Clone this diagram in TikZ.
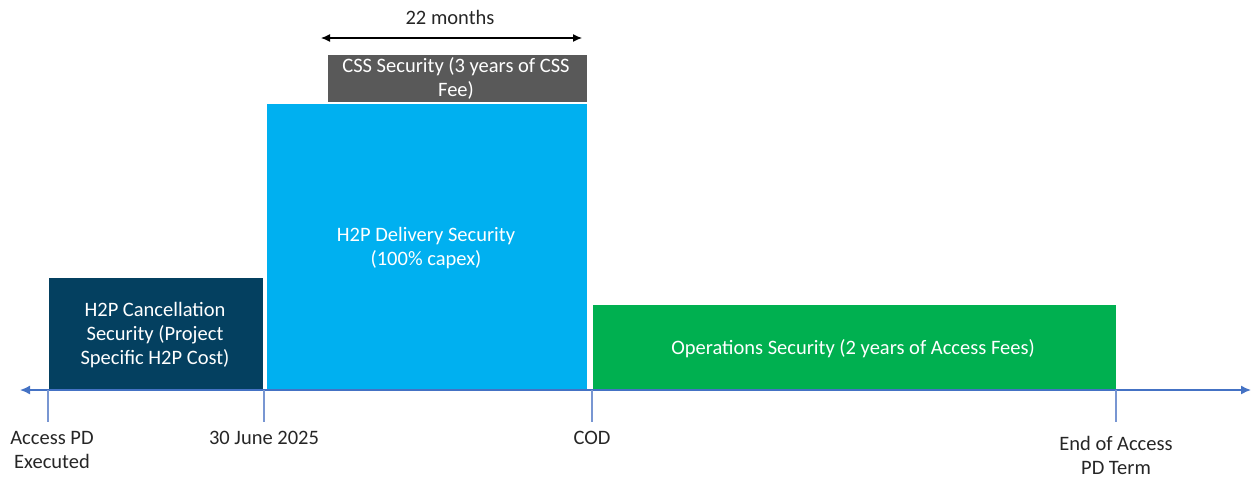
\documentclass[tikz,border=0pt]{standalone}
\usepackage{fontspec}
\setmainfont{Carlito}
\usetikzlibrary{arrows.meta}
\definecolor{navy}{RGB}{4,64,96}
\definecolor{skyb}{RGB}{0,176,240}
\definecolor{darkg}{RGB}{89,89,89}
\definecolor{greenb}{RGB}{0,176,80}
\definecolor{axisb}{RGB}{68,114,196}
\definecolor{tickb}{RGB}{120,150,210}
\begin{document}
\begin{tikzpicture}[x=1pt,y=-1pt,
  txt/.style={font=\fontsize{20.5}{24}\selectfont, align=center, inner sep=0pt},
  box/.style={draw=white, line width=0.8pt, anchor=north west, inner sep=0pt, txt, text=white},
  tick/.style={draw=tickb, line width=1.5pt},
  axisline/.style={draw=axisb, line width=1.5pt, {Latex[length=10pt,width=9pt]}-{Latex[length=10pt,width=9pt]}}
]
\useasboundingbox (0,0) rectangle (1252,477);
% boxes
\node[box, fill=navy, minimum width=215pt, minimum height=113pt] (cancel) at (48,277) {};
\node[txt, text=white] (canceltxt) at (155,335) {H2P Cancellation\\Security (Project\\Specific H2P Cost)};
\node[box, fill=skyb, minimum width=321pt, minimum height=287pt] (deliv) at (265.5,103) {};
\node[txt, text=white] (delivtxt) at (426,248) {H2P Delivery Security\\(100\% capex)};
\node[box, fill=darkg, minimum width=260pt, minimum height=48pt] (css) at (326.5,54) {};
\node[txt, text=white] (csstxt) at (456,78.5) {CSS Security (3 years of CSS\\Fee)};
\node[box, fill=greenb, minimum width=524pt, minimum height=86pt] (ops) at (591.5,304) {};
\node[txt, text=white] (opstxt) at (853,349) {Operations Security (2 years of Access Fees)};
% axis
\coordinate (axL) at (20,390);
\coordinate (axR) at (1251,390);
\draw[axisline] (axL) -- (axR);
\coordinate (t1) at (48,390);   \coordinate (t1b) at (48,422);
\coordinate (t2) at (264,390);  \coordinate (t2b) at (264,422);
\coordinate (t3) at (592,390);  \coordinate (t3b) at (592,422);
\coordinate (t4) at (1116,390); \coordinate (t4b) at (1116,422);
\draw[tick] (t1) -- (t1b);
\draw[tick] (t2) -- (t2b);
\draw[tick] (t3) -- (t3b);
\draw[tick] (t4) -- (t4b);
% labels
\node[txt, text=black!85] (l1) at (52,450) {Access PD\\Executed};
\node[txt, text=black!85] (l2) at (264,438) {30 June 2025};
\node[txt, text=black!85] (l3) at (592,438) {COD};
\node[txt, text=black!85] (l4) at (1116,455) {End of Access\\PD Term};
% 22 months
\coordinate (mL) at (321,38);
\coordinate (mR) at (582,38);
\draw[line width=1.2pt, {Latex[length=9pt,width=8pt]}-{Latex[length=9pt,width=8pt]}] (mL) -- (mR);
\node[txt, text=black!85] (mtxt) at (450,17) {22 months};
\end{tikzpicture}
\end{document}
